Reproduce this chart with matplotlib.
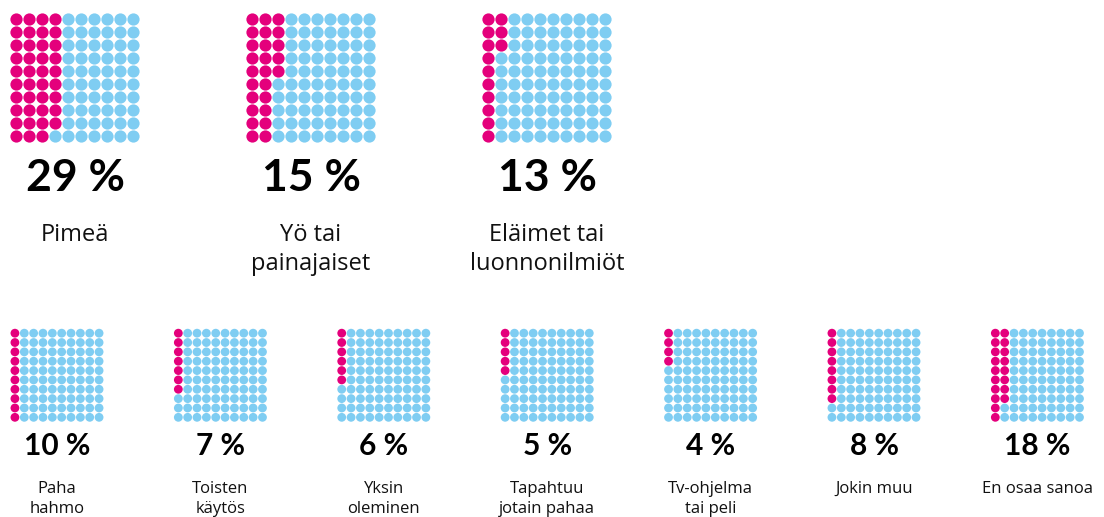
import matplotlib.pyplot as plt
from matplotlib.patches import Circle

# values shown as text
top_pct = [29, 15, 13]
top_labels = ["Pimeä", "Yö tai\npainajaiset", "Eläimet tai\nluonnonilmiöt"]
# number of pink dots actually drawn in each waffle (as in the original picture)
top_filled = [39, 25, 13]

bottom_pct = [10, 7, 6, 5, 4, 8, 18]
bottom_labels = ["Paha\nhahmo", "Toisten\nkäytös", "Yksin\noleminen", "Tapahtuu\njotain pahaa",
                 "Tv-ohjelma\ntai peli", "Jokin muu", "En osaa sanoa"]
bottom_filled = [10, 7, 6, 5, 4, 8, 18]

PINK = "#E4007C"
BLUE = "#7FCDF2"
PCT_FONT = "Lato"
LABEL_FONT = "Open Sans"

W, H = 1104, 517
fig = plt.figure(figsize=(W / 100, H / 100), dpi=100)
ax = fig.add_axes([0, 0, 1, 1])
ax.set_xlim(0, W)
ax.set_ylim(H, 0)
ax.axis("off")


def waffle(cx, top, pitch, filled):
    left = cx - 5 * pitch
    r = pitch * 0.47
    for col in range(10):
        for row in range(10):
            idx = col * 10 + row
            color = PINK if idx < filled else BLUE
            ax.add_patch(Circle((left + pitch * (col + 0.5), top + pitch * (row + 0.5)), r,
                                color=color, lw=0))


# top row
for i, (p, lab, f) in enumerate(zip(top_pct, top_labels, top_filled)):
    cx = 75 + i * 236
    waffle(cx, 13, 13, f)
    ax.text(cx, 178, f"{p} %", ha="center", va="center", fontsize=32,
            fontweight="bold", fontstyle="normal", family=PCT_FONT, color="black")
    ax.text(cx, 223, lab, ha="center", va="top", fontsize=17,
            family=LABEL_FONT, color="#111111", linespacing=1.3)

# bottom row
for i, (p, lab, f) in enumerate(zip(bottom_pct, bottom_labels, bottom_filled)):
    cx = 57 + i * 163.4
    waffle(cx, 328.5, 9.35, f)
    ax.text(cx, 446, f"{p} %", ha="center", va="center", fontsize=21.5,
            fontweight="bold", fontstyle="normal", family=PCT_FONT, color="black")
    ax.text(cx, 481, lab, ha="center", va="top", fontsize=12,
            family=LABEL_FONT, color="#111111", linespacing=1.3)

fig.savefig("out.png", dpi=100)
